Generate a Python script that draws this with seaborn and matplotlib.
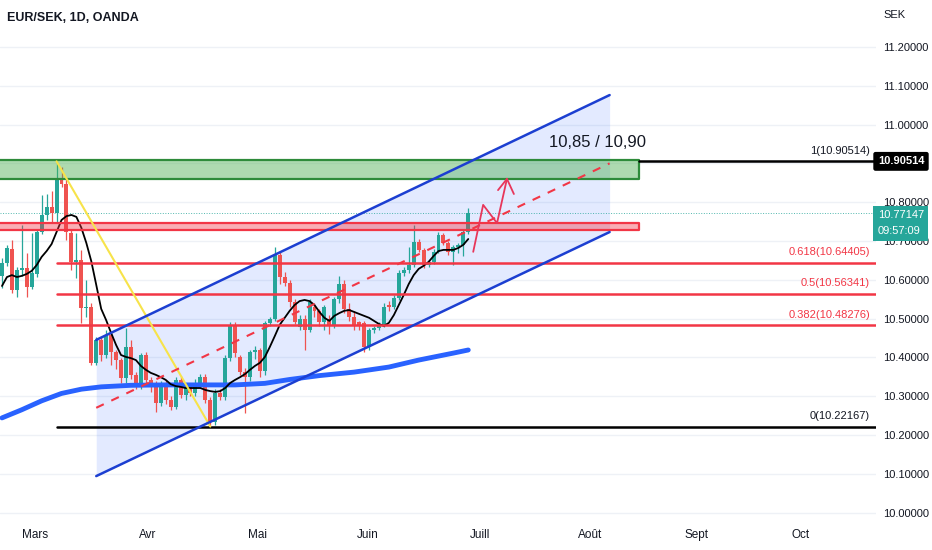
import numpy as np
import pandas as pd
import matplotlib.pyplot as plt
import seaborn as sns

# daily candles, EUR/SEK
opens = [10.610, 10.643, 10.680, 10.574, 10.625, 10.630, 10.581, 10.615, 10.723, 10.767,
         10.788, 10.772, 10.860, 10.847, 10.720, 10.646, 10.651, 10.527, 10.530, 10.386,
         10.445, 10.406, 10.458, 10.414, 10.393, 10.348, 10.427, 10.355, 10.324, 10.406,
         10.342, 10.334, 10.283, 10.334, 10.290, 10.272, 10.342, 10.303, 10.324, 10.308,
         10.334, 10.350, 10.290, 10.233, 10.308, 10.298, 10.398, 10.483, 10.400, 10.362,
         10.350, 10.414, 10.420, 10.365, 10.489, 10.500, 10.664, 10.607, 10.592, 10.543,
         10.478, 10.500, 10.470, 10.530, 10.520, 10.490, 10.500, 10.480, 10.550, 10.590,
         10.525, 10.505, 10.490, 10.489, 10.427, 10.470, 10.476, 10.484, 10.535, 10.530,
         10.553, 10.618, 10.625, 10.638, 10.697, 10.677, 10.638, 10.646, 10.672, 10.716,
         10.695, 10.672, 10.685, 10.690, 10.723]
highs = [10.655, 10.690, 10.703, 10.632, 10.741, 10.669, 10.720, 10.730, 10.819, 10.820,
         10.830, 10.905, 10.890, 10.862, 10.730, 10.720, 10.677, 10.600, 10.540, 10.452,
         10.452, 10.470, 10.463, 10.420, 10.398, 10.476, 10.445, 10.362, 10.412, 10.415,
         10.350, 10.340, 10.340, 10.342, 10.300, 10.350, 10.352, 10.330, 10.335, 10.345,
         10.358, 10.356, 10.298, 10.318, 10.318, 10.405, 10.490, 10.492, 10.405, 10.372,
         10.420, 10.430, 10.425, 10.495, 10.505, 10.685, 10.675, 10.620, 10.600, 10.550,
         10.510, 10.510, 10.550, 10.540, 10.525, 10.535, 10.510, 10.555, 10.610, 10.600,
         10.540, 10.520, 10.495, 10.495, 10.475, 10.480, 10.490, 10.540, 10.545, 10.560,
         10.625, 10.632, 10.685, 10.741, 10.705, 10.682, 10.652, 10.680, 10.723, 10.720,
         10.700, 10.690, 10.695, 10.728, 10.785]
lows = [10.580, 10.635, 10.566, 10.556, 10.610, 10.556, 10.575, 10.608, 10.718, 10.754,
        10.746, 10.749, 10.838, 10.703, 10.625, 10.605, 10.489, 10.504, 10.380, 10.380,
        10.390, 10.398, 10.380, 10.370, 10.334, 10.335, 10.345, 10.318, 10.318, 10.335,
        10.310, 10.260, 10.275, 10.280, 10.264, 10.268, 10.295, 10.290, 10.300, 10.300,
        10.325, 10.282, 10.222, 10.225, 10.290, 10.290, 10.390, 10.400, 10.355, 10.257,
        10.340, 10.395, 10.350, 10.355, 10.480, 10.495, 10.590, 10.585, 10.530, 10.485,
        10.470, 10.420, 10.465, 10.505, 10.480, 10.470, 10.460, 10.475, 10.540, 10.515,
        10.495, 10.470, 10.470, 10.414, 10.420, 10.462, 10.470, 10.478, 10.520, 10.525,
        10.548, 10.610, 10.618, 10.632, 10.672, 10.630, 10.632, 10.640, 10.668, 10.690,
        10.665, 10.638, 10.670, 10.660, 10.718]
closes = [10.643, 10.682, 10.574, 10.625, 10.630, 10.581, 10.617, 10.723, 10.767, 10.788,
          10.772, 10.857, 10.847, 10.723, 10.646, 10.651, 10.527, 10.530, 10.386, 10.445,
          10.406, 10.458, 10.414, 10.393, 10.348, 10.427, 10.355, 10.330, 10.406, 10.342,
          10.330, 10.283, 10.334, 10.290, 10.272, 10.342, 10.303, 10.324, 10.308, 10.334,
          10.350, 10.290, 10.233, 10.308, 10.298, 10.398, 10.483, 10.410, 10.362, 10.350,
          10.414, 10.420, 10.365, 10.489, 10.500, 10.664, 10.607, 10.592, 10.543, 10.491,
          10.500, 10.470, 10.543, 10.520, 10.490, 10.530, 10.480, 10.550, 10.590, 10.525,
          10.505, 10.483, 10.480, 10.427, 10.470, 10.476, 10.484, 10.530, 10.530, 10.553,
          10.618, 10.625, 10.638, 10.697, 10.677, 10.638, 10.646, 10.672, 10.716, 10.695,
          10.672, 10.685, 10.690, 10.723, 10.771]

# short moving average (black), one value per candle
ma_short = [10.584, 10.607, 10.612, 10.607, 10.610, 10.615, 10.623, 10.638, 10.659, 10.674,
            10.692, 10.723, 10.754, 10.764, 10.767, 10.762, 10.734, 10.695, 10.648, 10.587,
            10.525, 10.496, 10.463, 10.432, 10.406, 10.401, 10.398, 10.393, 10.378, 10.368,
            10.360, 10.355, 10.349, 10.342, 10.331, 10.326, 10.324, 10.321, 10.321, 10.321,
            10.321, 10.316, 10.313, 10.311, 10.313, 10.321, 10.334, 10.342, 10.349, 10.357,
            10.368, 10.378, 10.386, 10.401, 10.427, 10.455, 10.484, 10.502, 10.520, 10.535,
            10.545, 10.548, 10.545, 10.535, 10.517, 10.502, 10.494, 10.507, 10.514, 10.520,
            10.522, 10.517, 10.512, 10.507, 10.502, 10.494, 10.486, 10.481, 10.489, 10.509,
            10.535, 10.561, 10.589, 10.612, 10.628, 10.636, 10.646, 10.661, 10.674, 10.677,
            10.677, 10.677, 10.682, 10.690, 10.705]

# long moving average (blue)
ma_long_idx = [0, 4, 8, 12, 16, 20, 26, 33, 40, 47, 53, 58, 64, 71, 78, 84, 91, 94]
ma_long = [10.244, 10.265, 10.288, 10.307, 10.318, 10.324, 10.328, 10.329, 10.329, 10.329,
           10.333, 10.343, 10.353, 10.362, 10.375, 10.393, 10.411, 10.419]

# fibonacci levels
fib_ratios = ['1', '0.618', '0.5', '0.382', '0']
fib_prices = [10.90514, 10.64405, 10.56341, 10.48276, 10.22167]
fib_colors = ['black', '#f23645', '#f23645', '#f23645', 'black']

# drawings (bar index, price)
channel_x = [19, 122.5]
channel_top = [10.445, 11.076]
channel_mid = [10.270, 10.900]
channel_bot = [10.094, 10.723]
swing_x = [11, 42]
swing_y = [10.90514, 10.22167]
green_zone = (10.860, 10.909)
red_zone = (10.728, 10.746)
zone_end = 128.4
path_x = [95.0, 97.0, 99.8, 101.8]
path_y = [10.672, 10.793, 10.746, 10.860]
head_x = [100.0, 101.8, 103.2]
head_y = [10.831, 10.860, 10.821]

last_price = 10.77147
month_labels = ['Mars', 'Avr', 'Mai', 'Juin', 'Juill', 'Août', 'Sept', 'Oct']
month_pos = [6.7, 29.4, 51.6, 73.8, 96.4, 118.5, 140.1, 160.9]
price_ticks = [10.0, 10.1, 10.2, 10.3, 10.4, 10.5, 10.6, 10.7, 10.8, 10.9, 11.0, 11.1, 11.2]

sns.set_theme(style='white')
plt.rcParams['font.family'] = ['Liberation Sans', 'DejaVu Sans']

df = pd.DataFrame({'o': opens, 'h': highs, 'l': lows, 'c': closes, 'ma': ma_short})
df['idx'] = np.arange(len(df))
up = df['c'] >= df['o']
cols = np.where(up, '#26a69a', '#ef5350')

fig = plt.figure(figsize=(9.32, 5.5), dpi=100)
ax = fig.add_axes([0, 32 / 550, 876 / 932, 518 / 550])
ax.set_xlim(-0.4, 176.2)
ax.set_ylim(9.986, 11.321)

ax.set_yticks(price_ticks)
ax.yaxis.grid(True, color='#eef1f6', lw=1, zorder=0)
ax.xaxis.grid(False)
for s in ax.spines.values():
    s.set_visible(False)

# channel
ax.fill_between(channel_x, channel_bot, channel_top, color='#2962ff', alpha=0.13, lw=0, zorder=1)

ax.axhline(last_price, color='#26a69a', lw=0.7, ls=':', alpha=0.8, zorder=1)

# candles
ax.vlines(df['idx'], df['l'], df['h'], colors=cols, lw=0.9, zorder=2)
body_lo = df[['o', 'c']].min(axis=1)
body_h = (df['c'] - df['o']).abs().clip(lower=0.003)
ax.bar(df['idx'], body_h, bottom=body_lo, width=0.8, color=cols, lw=0, zorder=2)

# moving averages
sns.lineplot(x=ma_long_idx, y=ma_long, ax=ax, color='#2962ff', lw=3.5, zorder=3)
sns.lineplot(data=df, x='idx', y='ma', ax=ax, color='black', lw=1.3, zorder=3)

# zones
ax.fill_between([-1, zone_end], green_zone[0], green_zone[1], facecolor='#4caf50', alpha=0.45,
                edgecolor='none', zorder=4)
ax.plot([-1, zone_end, zone_end, -1, -1],
        [green_zone[0], green_zone[0], green_zone[1], green_zone[1], green_zone[0]],
        color='#2e8b3a', lw=1.6, zorder=4)
ax.fill_between([-1, zone_end], red_zone[0], red_zone[1], facecolor='#f23645', alpha=0.4,
                edgecolor='none', zorder=4)
ax.plot([-1, zone_end, zone_end, -1, -1],
        [red_zone[0], red_zone[0], red_zone[1], red_zone[1], red_zone[0]],
        color='#f23645', lw=1.6, zorder=4)

# fibonacci retracement
for r, p, c in zip(fib_ratios, fib_prices, fib_colors):
    x0 = zone_end if r == '1' else swing_x[0]
    ax.plot([x0, 176.2], [p, p], color=c, lw=1.8, zorder=4)
    ax.annotate(f'{r}({p:.5f})', xy=(175, p), xytext=(0, 4), textcoords='offset points',
                ha='right', va='bottom', fontsize=8, color=c if c != 'black' else '#131722')
ax.plot(swing_x, swing_y, color='#f7e34a', lw=1.5, zorder=5)

# channel lines
ax.plot(channel_x, channel_top, color='#1c3fd1', lw=1.8, zorder=5)
ax.plot(channel_x, channel_bot, color='#1c3fd1', lw=1.8, zorder=5)
ax.plot(channel_x, channel_mid, color='#f23645', lw=1.5, ls=(0, (4, 4)), zorder=5)

# projected path
ax.plot(path_x, path_y, color='#e8365a', lw=1.3, zorder=6)
ax.plot(head_x, head_y, color='#e8365a', lw=1.3, zorder=6)

ax.text(120, 10.953, '10,85 / 10,90', ha='center', va='center', fontsize=12, color='#131722',
        zorder=6)

# price axis
ax.yaxis.tick_right()
ax.set_yticklabels(['' if t == 10.9 else f'{t:.5f}' for t in price_ticks])
ax.tick_params(axis='y', length=0, pad=5, labelsize=8, labelcolor='#131722')
ax.set_xticks(month_pos)
ax.set_xticklabels(month_labels)
ax.tick_params(axis='x', length=0, pad=8, labelsize=8.5, labelcolor='#131722')
ax.set_xlabel('')
ax.set_ylabel('')

ax.text(1.002, fib_prices[0], f'{fib_prices[0]:.5f}', transform=ax.get_yaxis_transform(),
        ha='left', va='center', fontsize=8, color='white', fontweight='bold',
        bbox=dict(boxstyle='round,pad=0.4,rounding_size=0.2', fc='black', ec='none'), zorder=7)
ax.text(1.002, last_price - 0.026, f'{last_price:.5f}\n09:57:09', transform=ax.get_yaxis_transform(),
        ha='left', va='center', fontsize=8, color='white', linespacing=1.75,
        bbox=dict(boxstyle='square,pad=0.4', fc='#26a69a', ec='none'), zorder=7)

fig.text(7 / 932, 1 - 18 / 550, 'EUR/SEK, 1D, OANDA', ha='left', va='center', fontsize=9,
         fontweight='bold', color='#131722')
fig.text(883 / 932, 1 - 15 / 550, 'SEK', ha='left', va='center', fontsize=8, color='#131722')

fig.savefig('out.png', dpi=100, facecolor='white')
